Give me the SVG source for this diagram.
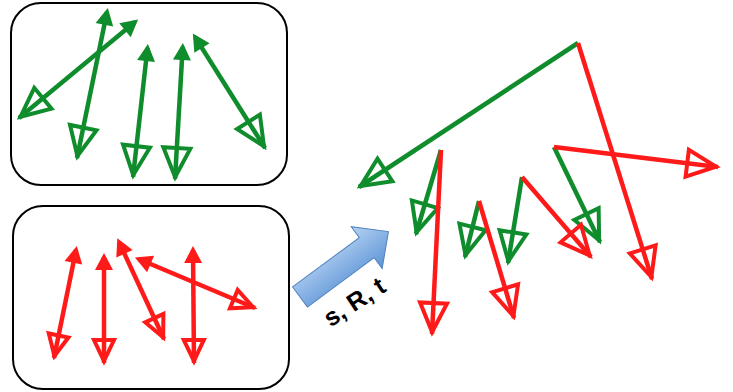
<svg xmlns="http://www.w3.org/2000/svg" width="733" height="392" viewBox="0 0 733 392">
  <style>
    .box { fill: #ffffff; stroke: #000000; stroke-width: 2; }
    .g { stroke: #0f8c2c; stroke-width: 4.5; fill: none; }
    .r { stroke: #ff1a1a; stroke-width: 4.5; fill: none; }
    .g.both { marker-start: url(#fill-g); marker-end: url(#open-g); }
    .r.both { marker-start: url(#fill-r); marker-end: url(#open-r-small); }
    .g.end { marker-end: url(#open-g); }
    .r.end { marker-end: url(#open-r); }
    .label { font-family: "Liberation Sans", Arial, sans-serif; font-weight: bold; font-size: 25px; fill: #000000; }
  </style>
  <defs>
    <marker id="open-g" viewBox="-38 -19 42 38" refX="0" refY="0" markerWidth="42" markerHeight="38" markerUnits="userSpaceOnUse" orient="auto" overflow="visible">
      <path d="M-2,0 L-31,-13.5 L-31,13.5 Z" fill="none" stroke="#0f8c2c" stroke-width="4"/>
    </marker>
    <marker id="open-r" viewBox="-38 -19 42 38" refX="0" refY="0" markerWidth="42" markerHeight="38" markerUnits="userSpaceOnUse" orient="auto" overflow="visible">
      <path d="M-2,0 L-31,-13.5 L-31,13.5 Z" fill="none" stroke="#ff1a1a" stroke-width="4"/>
    </marker>
    <marker id="open-r-small" viewBox="-28 -14 32 28" refX="0" refY="0" markerWidth="32" markerHeight="28" markerUnits="userSpaceOnUse" orient="auto" overflow="visible">
      <path d="M-2,0 L-23,-10 L-23,10 Z" fill="none" stroke="#ff1a1a" stroke-width="4"/>
    </marker>
    <marker id="fill-g" viewBox="-16 -10 22 20" refX="0" refY="0" markerWidth="22" markerHeight="20" markerUnits="userSpaceOnUse" orient="auto-start-reverse" overflow="visible">
      <path d="M4,0 L-13,-9 L-13,9 Z" fill="#0f8c2c"/>
    </marker>
    <marker id="fill-r" viewBox="-16 -10 22 20" refX="0" refY="0" markerWidth="22" markerHeight="20" markerUnits="userSpaceOnUse" orient="auto-start-reverse" overflow="visible">
      <path d="M4,0 L-13,-9 L-13,9 Z" fill="#ff1a1a"/>
    </marker>
    <linearGradient id="blue" x1="0" y1="-26" x2="0" y2="26" gradientUnits="userSpaceOnUse">
      <stop offset="0" stop-color="#b5d2f3"/>
      <stop offset="1" stop-color="#5c93d6"/>
    </linearGradient>
  </defs>

  <!-- frame holding the green vectors -->
  <g id="box-green">
    <rect class="box" x="11" y="3" width="276" height="182" rx="30"/>
  </g>
  <!-- frame holding the red vectors -->
  <g id="box-red">
    <rect class="box" x="13" y="206" width="276" height="183" rx="30"/>
  </g>

  <!-- block arrow with its transform label -->
  <g id="transform">
    <path transform="translate(300,297) rotate(-36.5)" d="M0,-12.5 L83,-12.5 L83,-26 L110,0 L83,26 L83,12.5 L0,12.5 Z" fill="url(#blue)" stroke="#4f81bd" stroke-width="1"/>
    <text class="label" transform="translate(359,309) rotate(-33)" text-anchor="middle">s, R, t</text>
  </g>

  <g id="connectors">
    <!-- green set -->
    <line class="g both" x1="107" y1="12" x2="77" y2="158"/>
    <line class="g both" x1="135" y1="22" x2="19" y2="118"/>
    <line class="g both" x1="147.5" y1="48" x2="133" y2="177"/>
    <line class="g both" x1="182.7" y1="47" x2="175" y2="179"/>
    <line class="g both" x1="195" y1="37" x2="265" y2="148"/>
    <!-- red set -->
    <line class="r both" x1="76" y1="250" x2="54" y2="358"/>
    <line class="r both" x1="104" y1="257" x2="104" y2="363"/>
    <line class="r both" x1="119" y1="242" x2="164" y2="339"/>
    <line class="r both" x1="138.6" y1="259" x2="255" y2="308"/>
    <line class="r both" x1="193" y1="250" x2="194" y2="363"/>
    <!-- combined tree: green branches -->
    <line class="g end" x1="578" y1="43" x2="359" y2="187"/>
    <line class="g end" x1="554" y1="147" x2="600" y2="242"/>
    <line class="g end" x1="441" y1="150" x2="416" y2="234"/>
    <line class="g end" x1="479" y1="201" x2="465" y2="257"/>
    <line class="g end" x1="522" y1="177" x2="508" y2="263"/>
    <!-- combined tree: red branches -->
    <line class="r end" x1="578" y1="43" x2="652" y2="279"/>
    <line class="r end" x1="554" y1="147" x2="718" y2="167"/>
    <line class="r end" x1="441" y1="150" x2="432" y2="334"/>
    <line class="r end" x1="479" y1="201" x2="514" y2="318"/>
    <line class="r end" x1="522" y1="177" x2="591" y2="257"/>
  </g>
</svg>
